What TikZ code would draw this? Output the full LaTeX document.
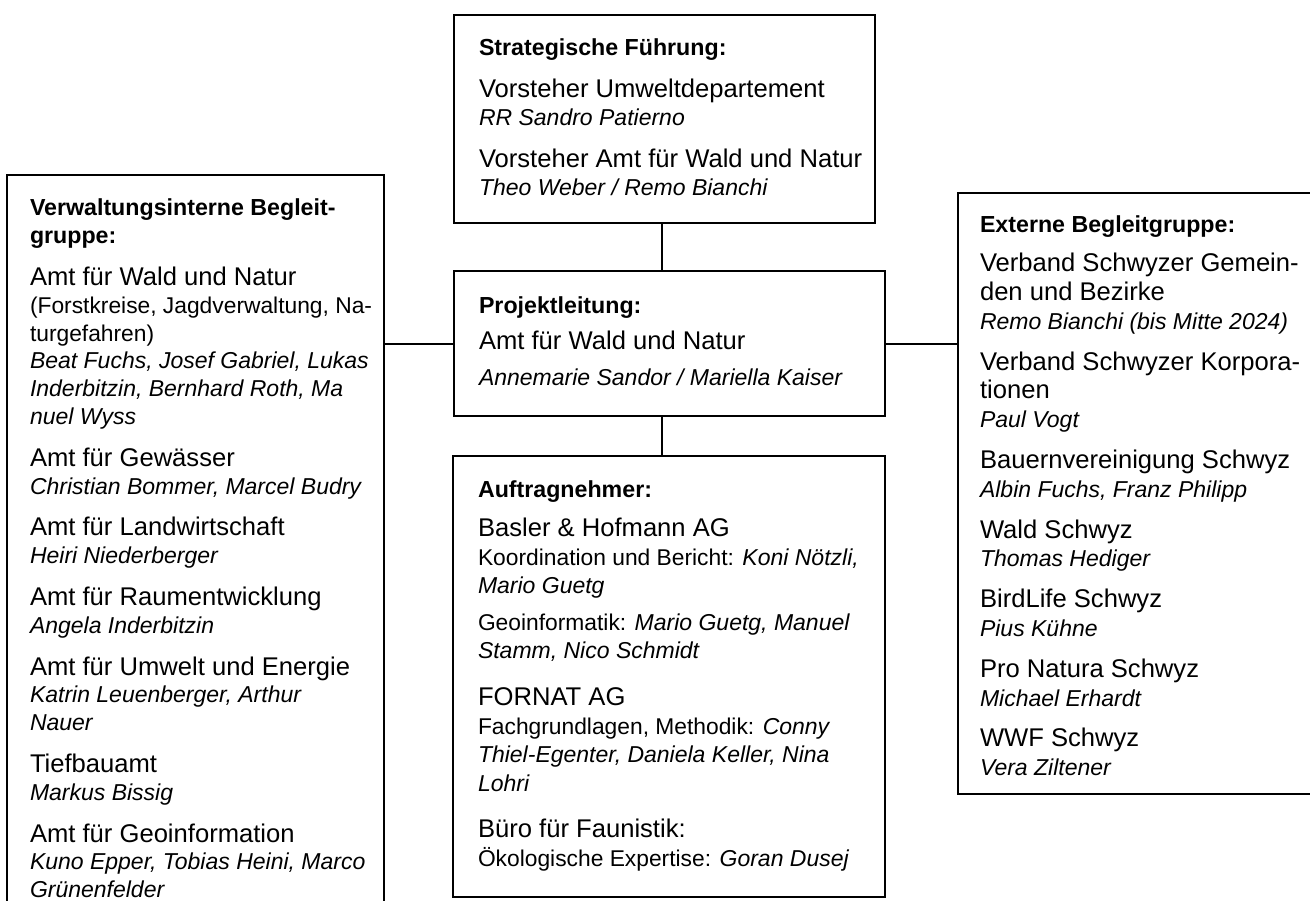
\documentclass[tikz,border=0pt]{standalone}
\usepackage{fontspec}
\setmainfont{Liberation Sans}

\tikzset{every picture/.style={line width=1pt}}
\tikzset{
  orgbox/.style={draw, rectangle, inner sep=0pt},
  boxtext/.style={anchor=north west, inner sep=0pt, align=left,
    font=\fontsize{12.8}{13.9}\selectfont},
}
\newcommand{\kopf}[1]{{\fontsize{11.6}{13.9}\selectfont\bfseries #1}}
\newcommand{\pers}[1]{{\fontsize{11.5}{13.9}\selectfont\itshape #1}}
\newcommand{\zusatz}[1]{{\fontsize{11.4}{13.9}\selectfont #1}}

\begin{document}
\begin{tikzpicture}[x=0.5pt,y=0.5pt,yscale=-1,xscale=1]
\useasboundingbox (0,0) rectangle (1310,900);
\clip (0,0) rectangle (1310,900);

%Shape: Rectangle
\node [orgbox, minimum width=210.5pt, minimum height=104pt] (fuehrung) at (664.5,119) {};
%Shape: Rectangle
\node [orgbox, minimum width=215.5pt, minimum height=72.5pt] (leitung) at (669.5,343.5) {};
%Shape: Rectangle
\node [orgbox, minimum width=216pt, minimum height=220.5pt] (auftrag) at (669,676.5) {};
%Shape: Rectangle
\node [orgbox, minimum width=188.5pt, minimum height=377.5pt] (intern) at (195.5,552.5) {};
%Shape: Rectangle
\node [orgbox, minimum width=191pt, minimum height=300.5pt] (extern) at (1149,493.5) {};

\coordinate (achse) at (662,0);
%Straight Lines
\draw (fuehrung.south -| achse) -- (leitung.north -| achse) ;
%Straight Lines
\draw (leitung.south -| achse) -- (auftrag.north -| achse) ;
%Straight Lines
\draw (intern.east |- leitung.west) -- (leitung.west) ;
%Straight Lines
\draw (leitung.east) -- (extern.west |- leitung.east) ;

% Text Node
\node [boxtext] (fuehrungtext) at (478,38) {\kopf{Strategische Führung:}\\[7pt]
Vorsteher Umweltdepartement\\
\pers{RR Sandro Patierno}\\[7pt]
Vorsteher Amt für Wald und Natur\\
\pers{Theo Weber / Remo Bianchi}};
% Text Node
\node [boxtext] (leitungtext) at (478,296) {\kopf{Projektleitung:}\\[4pt]
Amt für Wald und Natur\\[4pt]
\pers{Annemarie Sandor / Mariella Kaiser}};
% Text Node
\node [boxtext, font=\fontsize{12.8}{14.3}\selectfont] (auftragtext) at (477,480) {\kopf{Auftragnehmer:}\\[5pt]
Basler \& Hofmann AG\\
\zusatz{Koordination und Bericht: \pers{Koni Nötzli,}}\\
\pers{Mario Guetg}\\[4pt]
\zusatz{Geoinformatik: \pers{Mario Guetg, Manuel}}\\
\pers{Stamm, Nico Schmidt}\\[9pt]
FORNAT AG\\
\zusatz{Fachgrundlagen, Methodik: \pers{Conny}}\\
\pers{Thiel-Egenter, Daniela Keller, Nina}\\
\pers{Lohri}\\[9pt]
Büro für Faunistik:\\
\zusatz{Ökologische Expertise: \pers{Goran Dusej}}};
% Text Node
\node [boxtext] (interntext) at (29,198) {\kopf{Verwaltungsinterne Begleit-}\\
\kopf{gruppe:}\\[7pt]
Amt für Wald und Natur\\
\zusatz{(Forstkreise, Jagdverwaltung, Na-}\\
\zusatz{turgefahren)}\\
\pers{Beat Fuchs, Josef Gabriel, Lukas}\\
\pers{Inderbitzin, Bernhard Roth, Ma}\\
\pers{nuel Wyss}\\[7pt]
Amt für Gewässer\\
\pers{Christian Bommer, Marcel Budry}\\[7pt]
Amt für Landwirtschaft\\
\pers{Heiri Niederberger}\\[7pt]
Amt für Raumentwicklung\\
\pers{Angela Inderbitzin}\\[7pt]
Amt für Umwelt und Energie\\
\pers{Katrin Leuenberger, Arthur}\\
\pers{Nauer}\\[7pt]
Tiefbauamt\\
\pers{Markus Bissig}\\[7pt]
Amt für Geoinformation\\
\pers{Kuno Epper, Tobias Heini, Marco}\\
\pers{Grünenfelder}};
% Text Node
\node [boxtext, font=\fontsize{12.8}{14.4}\selectfont] (externtext) at (979,215) {\kopf{Externe Begleitgruppe:}\\[5pt]
Verband Schwyzer Gemein-\\
den und Bezirke\\
\pers{Remo Bianchi (bis Mitte 2024)}\\[6pt]
Verband Schwyzer Korpora-\\
tionen\\
\pers{Paul Vogt}\\[6pt]
Bauernvereinigung Schwyz\\
\pers{Albin Fuchs, Franz Philipp}\\[6pt]
Wald Schwyz\\
\pers{Thomas Hediger}\\[6pt]
BirdLife Schwyz\\
\pers{Pius Kühne}\\[6pt]
Pro Natura Schwyz\\
\pers{Michael Erhardt}\\[6pt]
WWF Schwyz\\
\pers{Vera Ziltener}};

\end{tikzpicture}
\end{document}
